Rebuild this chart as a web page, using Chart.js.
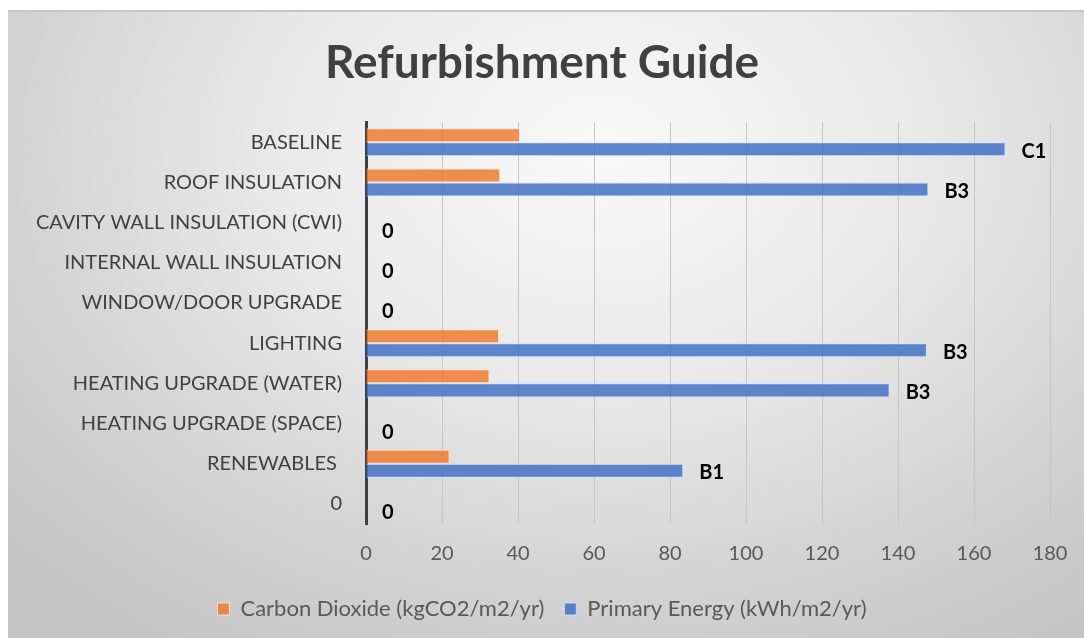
<!DOCTYPE html>
<html>
<head>
<meta charset="utf-8">
<script src="https://cdn.jsdelivr.net/npm/chart.js@4/dist/chart.umd.min.js"></script>
<style>
  html, body { margin: 0; padding: 0; background: #fff; }
  #frame {
    position: absolute; left: 8px; top: 10px; width: 1076px; height: 628px;
    border-top: 2px solid #c6c6c6; box-sizing: border-box;
    background: radial-gradient(ellipse 75% 95% at 55% 22%, #f9f9f9 0%, #e9e9e9 40%, #d2d2d2 75%, #c4c4c4 100%);
  }
  #wrap { position: absolute; left: 0; top: -2px; width: 1076px; height: 628px; }
</style>
</head>
<body>
<div id="frame"><div id="wrap"><canvas id="my-chart"></canvas></div></div>
<script>
// categories, top to bottom
const categories = [
  'BASELINE', 'ROOF INSULATION', 'CAVITY WALL INSULATION (CWI)', 'INTERNAL WALL INSULATION',
  'WINDOW/DOOR UPGRADE', 'LIGHTING', 'HEATING UPGRADE (WATER)', 'HEATING UPGRADE (SPACE)',
  'RENEWABLES ', '0'
]
const carbonDioxide = [40.5, 35.3, 0, 0, 0, 35, 32.5, 0, 22, 0]
const primaryEnergy = [168.3, 148, 0, 0, 0, 147.6, 137.8, 0, 83.5, 0]
const ratingLabels = ['C1', 'B3', '0', '0', '0', 'B3', 'B3', '0', 'B1', '0']
const xTicks = [0, 20, 40, 60, 80, 100, 120, 140, 160, 180]

// rating text drawn just past the end of each blue bar
const ratingPlugin = {
  id: 'ratings',
  afterDatasetsDraw(chart) {
    const ctx = chart.ctx
    const meta = chart.getDatasetMeta(1)
    ctx.save()
    ctx.font = 'bold 20px Lato'
    ctx.fillStyle = '#000'
    ctx.textBaseline = 'middle'
    meta.data.forEach((bar, i) => {
      ctx.fillText(ratingLabels[i], bar.x + 16, bar.y + 2)
    })
    ctx.restore()
  }
}

const ctx = document.getElementById('my-chart').getContext('2d')
const chart = new Chart(ctx, {
  type: 'bar',
  data: {
    labels: categories,
    datasets: [
      {
        label: 'Carbon Dioxide (kgCO2/m2/yr)',
        data: carbonDioxide,
        backgroundColor: 'rgba(237,125,49,0.85)',
        borderColor: 'rgba(255,225,200,0.9)',
        borderWidth: 1
      },
      {
        label: 'Primary Energy (kWh/m2/yr)',
        data: primaryEnergy,
        backgroundColor: 'rgba(68,114,196,0.85)',
        borderColor: 'rgba(210,225,250,0.9)',
        borderWidth: 1
      }
    ]
  },
  options: {
    indexAxis: 'y',
    responsive: true,
    maintainAspectRatio: false,
    animation: false,
    categoryPercentage: 0.7,
    barPercentage: 1.0,
    layout: { padding: { left: 26, right: 34, top: 0, bottom: 8 } },
    scales: {
      x: {
        min: 0,
        max: 180,
        afterBuildTicks(scale) { scale.ticks = xTicks.map(v => ({ value: v })) },
        afterFit(scale) { scale.height = 54; scale.paddingLeft = 0; scale.paddingRight = 0 },
        grid: { color: '#c6c6c6', lineWidth: 1, drawTicks: false },
        border: { display: false },
        ticks: { color: '#595959', font: { family: 'Lato', size: 20 }, padding: 18 }
      },
      y: {
        afterFit(scale) { scale.width = 332; scale.paddingTop = 0; scale.paddingBottom = 0 },
        grid: { display: false, drawTicks: false },
        border: { display: true, color: '#404040', width: 3 },
        ticks: { color: '#404040', font: { family: 'Lato', size: 20 }, padding: 24, autoSkip: false }
      }
    },
    plugins: {
      title: {
        display: true,
        text: 'Refurbishment Guide',
        color: '#404040',
        font: { family: 'Lato', size: 46, weight: 'bold', lineHeight: 1.2 },
        padding: { top: 26, bottom: 31 }
      },
      legend: {
        position: 'bottom',
        labels: {
          color: '#595959',
          font: { family: 'Lato', size: 22 },
          boxWidth: 12,
          boxHeight: 12,
          padding: 20
        }
      },
      tooltip: { enabled: false }
    }
  },
  plugins: [ratingPlugin]
})
</script>
</body>
</html>
